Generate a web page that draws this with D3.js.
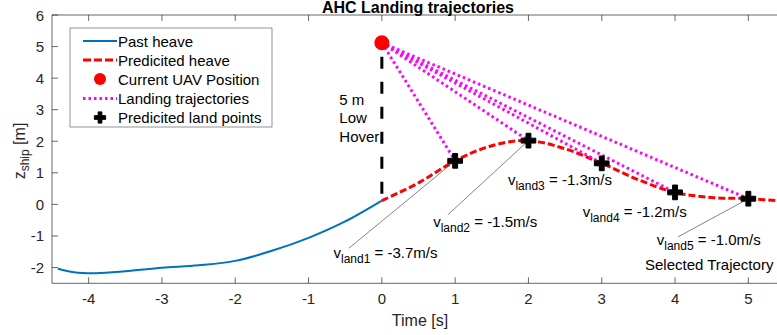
<!DOCTYPE html>
<html>
<head>
<meta charset="utf-8">
<script src="https://cdn.jsdelivr.net/npm/d3@7"></script>
<style>
  body { margin: 0; background: #fff; }
  text { font-family: "Liberation Sans", Arial, sans-serif; }
</style>
</head>
<body>
<svg id="chart" width="777" height="335"></svg>
<script>
// heave history and prediction
const pastT = [-4.42, -4.2, -3.9, -3.5, -3.0, -2.5, -2.0, -1.5, -1.0, -0.5, 0]
const pastZ = [-2.04, -2.15, -2.18, -2.12, -2.01, -1.93, -1.79, -1.47, -1.06, -0.54, 0.12]
const predT = [0, 0.5, 1, 1.5, 2, 2.5, 3, 3.5, 4, 4.5, 5, 5.5]
const predZ = [0.12, 0.68, 1.38, 1.86, 2.02, 1.76, 1.30, 0.78, 0.38, 0.22, 0.18, 0.10]
const uav = { t: 0, z: 5.12 }
const landT = [1, 2, 3, 4, 5]
const landZ = [1.38, 2.02, 1.30, 0.38, 0.18]
const landV = ['-3.7', '-1.5', '-1.3', '-1.2', '-1.0']
// label anchors (data coords), leader start or null
const labelPos = [[-0.66, -1.69], [0.70, -0.71], [1.72, 0.62], [2.74, -0.40], [3.75, -1.29]]
const leaderFrom = [[-0.45, -1.39], [0.90, -0.33], null, null, [4.04, -1.03]]
const xTicks = [-4, -3, -2, -1, 0, 1, 2, 3, 4, 5]
const yTicks = [-2, -1, 0, 1, 2, 3, 4, 5, 6]

const margin = { left: 52, top: 15, right: -8, bottom: 52 }
const W = 777, H = 335
const svg = d3.select('#chart')

const x = d3.scaleLinear().domain([-4.5, 5.5]).range([margin.left, W - margin.right])
const y = d3.scaleLinear().domain([-2.5, 6]).range([H - margin.bottom + 0.3, margin.top])

const axisCol = '#262626'

// axes box
svg.append('line').attr('x1', x(-4.5)).attr('x2', x(5.5)).attr('y1', y(6)).attr('y2', y(6))
  .attr('stroke', axisCol).attr('stroke-width', 0.7)
svg.append('line').attr('x1', x(-4.5)).attr('x2', x(5.5)).attr('y1', y(-2.5)).attr('y2', y(-2.5))
  .attr('stroke', axisCol).attr('stroke-width', 0.7)
svg.append('line').attr('x1', x(-4.5)).attr('x2', x(-4.5)).attr('y1', y(6)).attr('y2', y(-2.5))
  .attr('stroke', axisCol).attr('stroke-width', 0.7)

const tickG = svg.append('g').attr('stroke', axisCol).attr('stroke-width', 0.7)
xTicks.forEach(t => {
  tickG.append('line').attr('x1', x(t)).attr('x2', x(t)).attr('y1', y(-2.5)).attr('y2', y(-2.5) - 6)
  tickG.append('line').attr('x1', x(t)).attr('x2', x(t)).attr('y1', y(6)).attr('y2', y(6) + 6)
})
yTicks.forEach(v => {
  tickG.append('line').attr('x1', x(-4.5)).attr('x2', x(-4.5) + 6).attr('y1', y(v)).attr('y2', y(v))
})

svg.append('g').selectAll('text').data(xTicks).join('text')
  .attr('x', d => x(d)).attr('y', y(-2.5) + 21).attr('text-anchor', 'middle')
  .attr('font-size', 15).attr('fill', axisCol).text(d => d)
svg.append('g').selectAll('text').data(yTicks).join('text')
  .attr('x', x(-4.5) - 8).attr('y', d => y(d) + 5.5).attr('text-anchor', 'end')
  .attr('font-size', 15).attr('fill', axisCol).text(d => d)

// titles
svg.append('text').attr('x', 418).attr('y', 13).attr('text-anchor', 'middle')
  .attr('font-size', 16).attr('font-weight', 'bold').text('AHC Landing trajectories')
svg.append('text').attr('x', 420).attr('y', 326).attr('text-anchor', 'middle')
  .attr('font-size', 16).attr('fill', axisCol).text('Time [s]')
const yl = svg.append('text').attr('transform', 'translate(25,151) rotate(-90)')
  .attr('text-anchor', 'middle').attr('font-size', 16).attr('fill', axisCol)
yl.append('tspan').text('z')
yl.append('tspan').attr('font-size', 12).attr('dy', 4).text('ship')
yl.append('tspan').attr('dy', -4).text(' [m]')

const plot = svg.append('g')
const line = d3.line().x(d => x(d[0])).y(d => y(d[1])).curve(d3.curveCatmullRom)

// low hover vertical
plot.append('line').attr('x1', x(0)).attr('x2', x(0)).attr('y1', y(uav.z) + 14).attr('y2', y(predZ[0]))
  .attr('stroke', '#000').attr('stroke-width', 3).attr('stroke-dasharray', '12,13')

plot.append('path').datum(d3.zip(pastT, pastZ)).attr('d', line)
  .attr('fill', 'none').attr('stroke', '#0072BD').attr('stroke-width', 2)
plot.append('path').datum(d3.zip(predT, predZ)).attr('d', line)
  .attr('fill', 'none').attr('stroke', '#ff0000').attr('stroke-width', 3).attr('stroke-dasharray', '7,3')

// landing trajectories
landT.forEach((t, i) => {
  plot.append('line').attr('x1', x(uav.t)).attr('y1', y(uav.z)).attr('x2', x(t)).attr('y2', y(landZ[i]))
    .attr('stroke', '#ff00ff').attr('stroke-width', 3).attr('stroke-dasharray', '2.5,3')
})

// leader lines
landT.forEach((t, i) => {
  if (!leaderFrom[i]) return
  plot.append('line').attr('x1', x(leaderFrom[i][0])).attr('y1', y(leaderFrom[i][1]))
    .attr('x2', x(t)).attr('y2', y(landZ[i])).attr('stroke', '#333').attr('stroke-width', 0.6)
})

plot.append('circle').attr('cx', x(uav.t)).attr('cy', y(uav.z)).attr('r', 7.5).attr('fill', '#ff0000')

const cross = d3.symbol().type(d3.symbolCross).size(120)
landT.forEach((t, i) => {
  plot.append('path').attr('d', cross).attr('transform', `translate(${x(t)},${y(landZ[i])})`)
    .attr('fill', '#000').attr('stroke', '#000').attr('stroke-width', 1).attr('stroke-linejoin', 'round')
})

// annotations
const ann = svg.append('g').attr('font-size', 15).attr('fill', '#000')
landT.forEach((t, i) => {
  const tx = ann.append('text').attr('x', x(labelPos[i][0])).attr('y', y(labelPos[i][1]))
  tx.append('tspan').text('v')
  tx.append('tspan').attr('font-size', 12).attr('dy', 5).text('land' + (i + 1))
  tx.append('tspan').attr('dy', -5).text(' = ' + landV[i] + 'm/s')
})
ann.append('text').attr('x', x(3.59)).attr('y', y(-2.08)).text('Selected Trajectory')
const hover = ['5 m', 'Low', 'Hover']
const hoverZ = [3.16, 2.58, 1.99]
hover.forEach((s, i) => {
  ann.append('text').attr('x', x(-0.58)).attr('y', y(hoverZ[i])).text(s)
})

// legend
const lg = svg.append('g').attr('transform', 'translate(70,28)')
lg.append('rect').attr('width', 202).attr('height', 99).attr('fill', '#fff')
  .attr('stroke', '#666').attr('stroke-width', 0.7)
const rowY = [13, 32, 51, 70.5, 89.5]
const labels = ['Past heave', 'Predicited heave', 'Current UAV Position', 'Landing trajectories', 'Predicited land points']
labels.forEach((s, i) => {
  lg.append('text').attr('x', 48).attr('y', rowY[i] + 5.5).attr('font-size', 15).text(s)
})
lg.append('line').attr('x1', 13).attr('x2', 47).attr('y1', rowY[0]).attr('y2', rowY[0])
  .attr('stroke', '#0072BD').attr('stroke-width', 2)
lg.append('line').attr('x1', 13).attr('x2', 47).attr('y1', rowY[1]).attr('y2', rowY[1])
  .attr('stroke', '#ff0000').attr('stroke-width', 3).attr('stroke-dasharray', '8,3')
lg.append('circle').attr('cx', 30).attr('cy', rowY[2]).attr('r', 6).attr('fill', '#ff0000')
lg.append('line').attr('x1', 13).attr('x2', 47).attr('y1', rowY[3]).attr('y2', rowY[3])
  .attr('stroke', '#ff00ff').attr('stroke-width', 3).attr('stroke-dasharray', '2.5,3')
lg.append('path').attr('d', d3.symbol().type(d3.symbolCross).size(70))
  .attr('transform', `translate(30,${rowY[4]})`).attr('fill', '#000')
  .attr('stroke', '#000').attr('stroke-width', 1).attr('stroke-linejoin', 'round')
</script>
</body>
</html>
